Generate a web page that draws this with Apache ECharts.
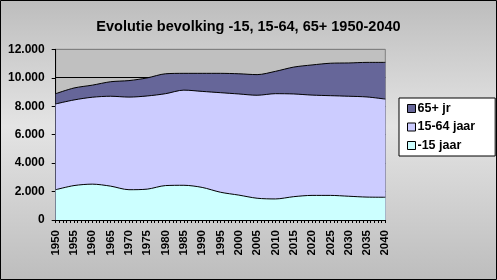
<!DOCTYPE html>
<html>
<head>
<meta charset="utf-8">
<script src="https://cdn.jsdelivr.net/npm/echarts@6/dist/echarts.min.js"></script>
<style>
html,body{margin:0;padding:0;background:#fff;}
#chart{width:497px;height:280px;}
</style>
</head>
<body>
<div id="chart"></div>
<script>
// Data (thousands), every 5 years
var years = [1950,1955,1960,1965,1970,1975,1980,1985,1990,1995,2000,2005,2010,2015,2020,2025,2030,2035,2040];
var youth   = [2130,2420,2520,2380,2130,2170,2420,2440,2290,1950,1750,1530,1480,1640,1730,1730,1670,1610,1600];
var working = [6030,6020,6110,6320,6510,6550,6460,6690,6750,7000,7110,7240,7400,7220,7050,7010,7030,7040,6900];
var elderly = [720,840,850,1020,1160,1270,1400,1180,1270,1360,1420,1450,1570,1890,2120,2280,2340,2430,2580];
var seriesNames = ['-15 jaar','15-64 jaar','65+ jr'];
var yTicks = [0,2000,4000,6000,8000,10000,12000];

function fmtThousands(v){ return String(v).replace(/\B(?=(\d{3})+(?!\d))/g,'.'); }

var font = 'Arial, "Liberation Sans", sans-serif';
var chart = echarts.init(document.getElementById('chart'), null, {renderer:'canvas'});
var colors = ['#CCFFFF','#CCCCFF','#666699'];
var vals = [youth, working, elderly];

// cumulative (stacked) tops, computed from the arrays above
var cum = vals.map(function(_, k){
  return years.map(function(y, i){
    var s = 0; for (var j = 0; j <= k; j++) s += vals[j][i];
    return [y, s];
  });
});

// draw the top layer first so lower layers cover it
var series = [2,1,0].map(function(k){
  return {
    name:seriesNames[k], type:'line', data:cum[k],
    showSymbol:false, symbol:'none', smooth:0.3,
    color: colors[k],
    lineStyle:{color:'#000', width:1},
    areaStyle:{color:colors[k], opacity:1, origin:'start'},
    itemStyle:{color:colors[k], borderColor:'#000', borderWidth:1},
    emphasis:{disabled:true}, animation:false
  };
});

chart.setOption({
  animation:false,
  backgroundColor:{type:'linear',x:0,y:0,x2:0,y2:1,colorStops:[
    {offset:0,color:'#BDBDBD'},{offset:0.45,color:'#E4E4E4'},{offset:1,color:'#BDBDBD'}]},
  title:{text:'Evolutie bevolking -15, 15-64, 65+ 1950-2040', left:'center', top:14,
    textStyle:{fontFamily:font, fontWeight:'bold', fontSize:14.5, color:'#000'}},
  legend:{
    orient:'vertical', left:399, top:98,
    data:['65+ jr','15-64 jaar','-15 jaar'],
    icon:'rect', itemWidth:8, itemHeight:8, itemGap:5.5,
    padding:[4,20,4,8],
    backgroundColor:'#fff', borderColor:'#000', borderWidth:1, borderRadius:0,
    itemStyle:{borderColor:'#000', borderWidth:1},
    textStyle:{fontFamily:font, fontWeight:'bold', fontSize:12.5, color:'#000', lineHeight:12, padding:[0,0,0,-3]},
    selectedMode:false
  },
  grid:{left:55.7, right:111.7, top:49.3, bottom:60, show:true, backgroundColor:'#C0C0C0', borderColor:'#808080', borderWidth:1},
  xAxis:{
    type:'value', min:1950, max:2040, interval:5,
    axisLine:{show:true, onZero:false, lineStyle:{color:'#000', width:1}},
    axisTick:{show:true, length:3, lineStyle:{color:'#000'}},
    minorTick:{show:true, splitNumber:5, length:3, lineStyle:{color:'#000'}},
    splitLine:{show:false}, minorSplitLine:{show:false},
    axisLabel:{rotate:90, margin:10, fontFamily:font, fontWeight:'bold', fontSize:11.5, color:'#000',
      formatter:function(v){return String(v);}}
  },
  yAxis:{
    type:'value', min:yTicks[0], max:yTicks[yTicks.length-1], interval:2000,
    axisLine:{show:true, lineStyle:{color:'#000', width:1}},
    axisTick:{show:true, length:4, lineStyle:{color:'#000'}},
    splitLine:{show:true, lineStyle:{color:['#000','#000','#000','#000','#000','#000','#808080'], width:1}},
    axisLabel:{margin:11, fontFamily:font, fontWeight:'bold', fontSize:12, color:'#000',
      formatter:function(v){return fmtThousands(v);}}
  },
  series: series,
  graphic:[{type:'rect', shape:{x:0.5,y:0.5,width:496,height:279}, style:{fill:null, stroke:'#000', lineWidth:1}, silent:true, z:100}]
});
</script>
</body>
</html>
